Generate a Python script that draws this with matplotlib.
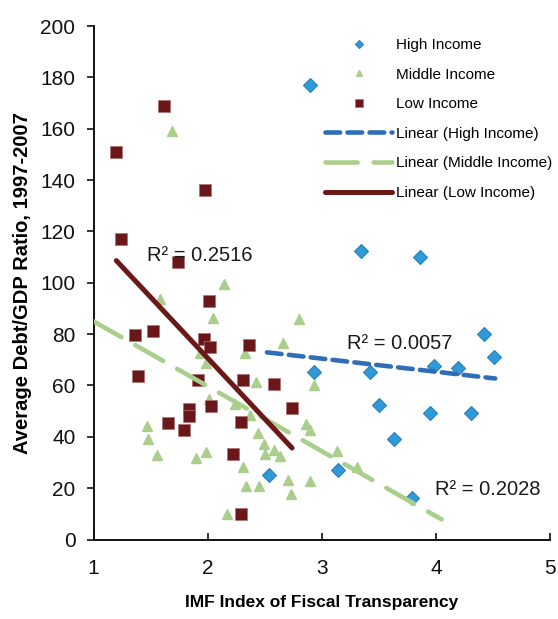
import matplotlib
matplotlib.use("Agg")
import matplotlib.pyplot as plt
import numpy as np

plt.rcParams['font.family'] = ['Liberation Sans', 'DejaVu Sans']

# ---- data ----
high_x = [2.90, 3.34, 3.86, 4.42, 4.51, 2.93, 3.42, 3.98, 4.19, 3.50, 3.95, 4.31, 3.63, 3.14, 3.79, 2.54]
high_y = [176.9, 112.4, 110.2, 80.0, 71.0, 65.1, 65.4, 67.7, 66.9, 52.3, 49.4, 49.4, 39.2, 27.2, 16.0, 25.2]

mid_x = [1.69, 2.14, 1.58, 2.05, 2.80, 2.66, 2.33, 1.93, 1.99, 2.42, 2.93, 2.01, 2.24, 2.37,
         2.86, 2.90, 1.47, 1.48, 1.56, 1.90, 1.99, 2.44, 2.49, 2.50, 2.58, 2.63, 2.31, 2.34,
         2.45, 2.70, 2.73, 2.90, 2.17, 3.13, 3.31]
mid_y = [159.1, 99.7, 93.5, 86.3, 86.0, 76.5, 72.5, 72.5, 68.6, 61.2, 60.1, 54.9, 52.9, 48.4,
         45.1, 42.5, 44.4, 39.2, 33.1, 31.8, 34.2, 41.6, 37.3, 33.3, 35.0, 32.7, 28.1, 20.7,
         20.7, 23.1, 17.6, 22.9, 9.8, 34.6, 28.1]

low_x = [1.62, 1.20, 1.98, 1.24, 1.74, 2.01, 1.36, 1.52, 1.97, 2.02, 2.36, 1.39, 1.92, 2.31,
         2.58, 2.74, 2.03, 1.84, 1.84, 1.65, 1.79, 2.29, 2.22, 2.29]
low_y = [169.0, 151.0, 136.0, 117.0, 108.0, 92.8, 79.7, 81.4, 78.0, 74.9, 75.8, 63.8, 62.1, 62.2,
         60.4, 51.4, 51.9, 51.0, 48.0, 45.4, 42.5, 45.7, 33.3, 9.8]

# linear trend lines: (slope, intercept, x_start, x_end)
trend_high = (-5.1, 85.75, 2.52, 4.52)
trend_mid = (-25.3, 110.3, 1.0, 4.05)
trend_low = (-47.4, 165.5, 1.20, 2.74)

r2_labels = ["R² = 0.2516", "R² = 0.0057", "R² = 0.2028"]
r2_pos = [(1.47, 110.5), (3.22, 76.5), (3.99, 19.5)]

x_ticks = [1, 2, 3, 4, 5]
y_ticks = list(range(0, 201, 20))

# ---- colours ----
c_high = '#2E9AD8'
c_high_edge = '#2B7FB8'
c_high_line = '#2F6EB6'
c_mid = '#AACF8C'
c_low = '#6A1719'
c_low_line = '#6B1818'

W, H = 558, 619
fig = plt.figure(figsize=(W / 100, H / 100), dpi=100)
ax = fig.add_axes([93.5 / W, 1 - 539.5 / H, (550 - 93.5) / W, (539.5 - 26) / H])

ax.plot(mid_x, mid_y, linestyle='none', marker='^', ms=7.5, color=c_mid, mec=c_mid,
        label='Middle Income', zorder=3)
ax.plot(low_x, low_y, linestyle='none', marker='s', ms=9, color=c_low, mec='#B07070', mew=0.5,
        label='Low Income', zorder=4)
ax.plot(high_x, high_y, linestyle='none', marker='D', ms=7.5, color=c_high, mec=c_high_edge, mew=0.8,
        label='High Income', zorder=5)

def trend(p):
    s, b, x0, x1 = p
    xs = np.array([x0, x1])
    return xs, s * xs + b

xs, ys = trend(trend_high)
ax.plot(xs, ys, color=c_high_line, lw=3.3, dashes=(3.2, 1.6),
        dash_capstyle='round', label='Linear (High Income)', zorder=6)
xs, ys = trend(trend_mid)
ax.plot(xs, ys, color=c_mid, lw=3.3, dashes=(7, 3.5), dash_capstyle='round',
        label='Linear (Middle Income)', zorder=6)
xs, ys = trend(trend_low)
ax.plot(xs, ys, color=c_low_line, lw=3.6, solid_capstyle='round',
        label='Linear (Low Income)', zorder=6)

for txt, (tx, ty) in zip(r2_labels, r2_pos):
    ax.text(tx, ty, txt, fontsize=14.5, va='center', ha='left', color='#1a1a1a', zorder=7)

ax.set_xlim(1, 5)
ax.set_ylim(0, 200)
ax.set_xticks(x_ticks)
ax.set_yticks(y_ticks)
ax.set_xticklabels([str(v) for v in x_ticks])
ax.set_yticklabels([str(v) for v in y_ticks])
ax.tick_params(axis='x', direction='in', length=5, width=1.2, labelsize=15, pad=14, colors='#111111')
ax.tick_params(axis='y', direction='out', length=5, width=1.2, labelsize=15, pad=8, colors='#111111')
for s in ['top', 'right']:
    ax.spines[s].set_visible(False)
for s in ['left', 'bottom']:
    ax.spines[s].set_linewidth(1.4)
    ax.spines[s].set_color('#111111')

ax.set_xlabel('IMF Index of Fiscal Transparency', fontsize=12.5, fontweight='bold', labelpad=12)
ax.set_ylabel('Average Debt/GDP Ratio, 1997-2007', fontsize=14.5, fontweight='bold', labelpad=6)

handles, labels = ax.get_legend_handles_labels()
order = ['High Income', 'Middle Income', 'Low Income',
         'Linear (High Income)', 'Linear (Middle Income)', 'Linear (Low Income)']
hmap = dict(zip(labels, handles))
leg = ax.legend([hmap[k] for k in order], order, loc='upper left',
                bbox_to_anchor=(325 / W, 1 - 38 / H), bbox_transform=fig.transFigure,
                frameon=False, fontsize=11, handlelength=4.4, handletextpad=0.25,
                labelspacing=1.02, borderpad=0, borderaxespad=0, markerscale=0.6)

fig.savefig('out.png', dpi=100)
